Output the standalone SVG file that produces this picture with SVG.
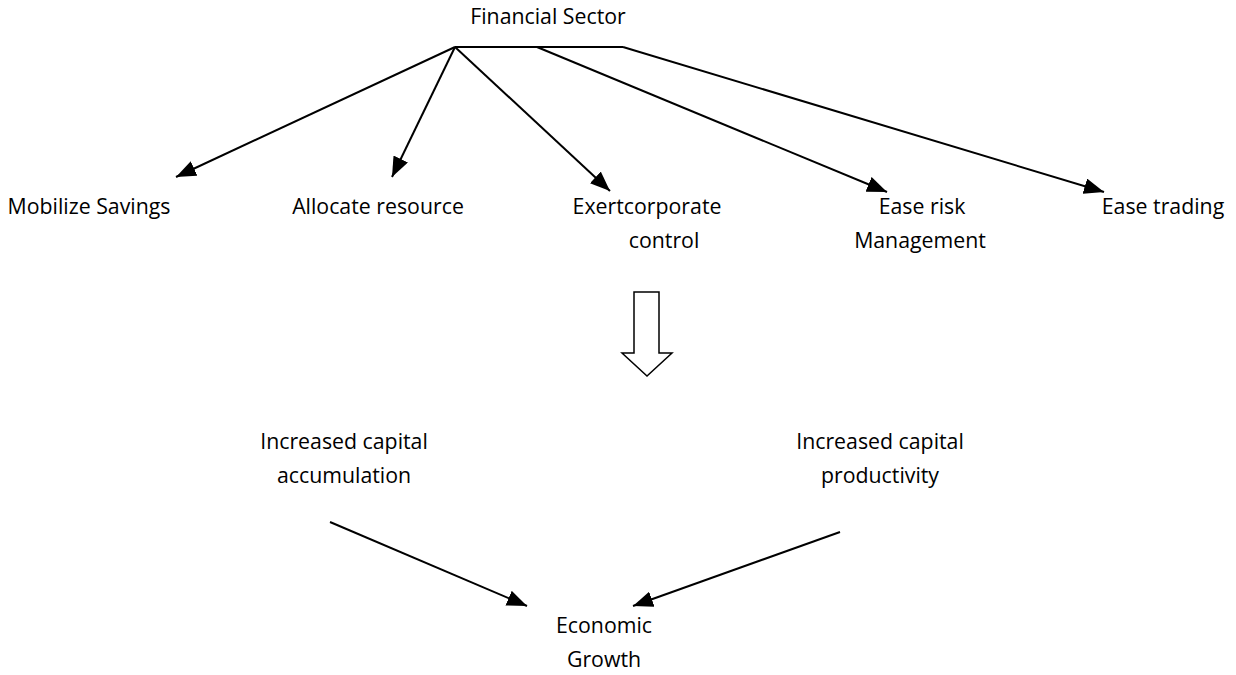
<svg xmlns="http://www.w3.org/2000/svg" width="1236" height="675" viewBox="0 0 1236 675">
<style>
text{font-family:"Open Sans","Liberation Sans",sans-serif;font-size:21.3px;fill:#000;text-anchor:middle}
.c{stroke:#000;stroke-width:2;fill:none}
</style>
<defs>
<marker id="ah2" markerWidth="20" markerHeight="16" refX="20" refY="8" orient="auto" markerUnits="userSpaceOnUse" viewBox="0 0 20 16">
<path d="M0,0 L20,8 L0,16 z" fill="#000"/>
</marker>
</defs>
<rect width="1236" height="675" fill="#fff"/>
<g id="financial-sector"><text x="548" y="24">Financial Sector</text></g>
<g id="mobilize"><text x="89" y="214">Mobilize Savings</text></g>
<g id="allocate"><text x="378" y="214">Allocate resource</text></g>
<g id="exert"><text x="647" y="214">Exertcorporate</text><text x="664" y="248">control</text></g>
<g id="ease-risk"><text x="922" y="214">Ease risk</text><text x="920" y="248">Management</text></g>
<g id="ease-trading"><text x="1163" y="214">Ease trading</text></g>
<g id="block-arrow"><path d="M634,292 H659 V353 H672 L647,376 L622,353 H634 Z" fill="#fff" stroke="#000" stroke-width="1.5"/></g>
<g id="acc"><text x="344" y="449">Increased capital</text><text x="344" y="483">accumulation</text></g>
<g id="prod"><text x="880" y="449">Increased capital</text><text x="880" y="483">productivity</text></g>
<g id="growth"><text x="604" y="633">Economic</text><text x="604" y="667">Growth</text></g>
<g id="connectors" class="c">
<path d="M455,47 H623"/>
<path d="M455,47 L176,177" marker-end="url(#ah2)"/>
<path d="M455,47 L392,177" marker-end="url(#ah2)"/>
<path d="M455,47 L610,191" marker-end="url(#ah2)"/>
<path d="M537,47 L887,192" marker-end="url(#ah2)"/>
<path d="M623,47 L1104,192" marker-end="url(#ah2)"/>
<path d="M330,522 L527,606" marker-end="url(#ah2)"/>
<path d="M840,532 L633,606" marker-end="url(#ah2)"/>
</g>
</svg>
